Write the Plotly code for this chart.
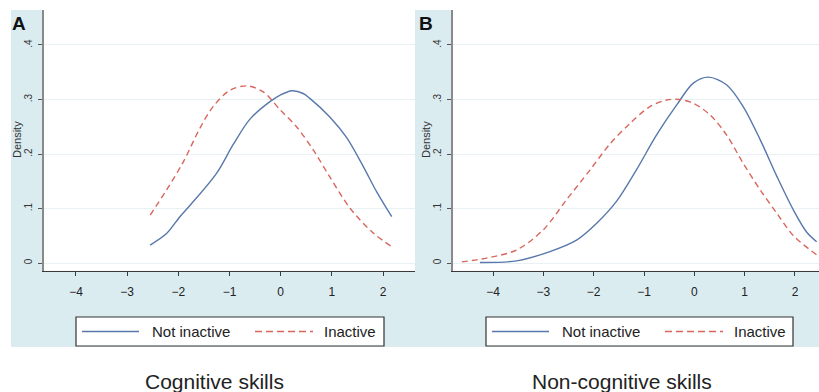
import plotly.graph_objects as go

# ---------------- data ----------------
cog_x_not = [-2.55, -2.23, -1.97, -1.77, -1.25, -0.93, -0.60, -0.21, -0.01, 0.22, 0.44, 0.57, 0.96, 1.29, 1.62, 1.88, 2.17]
cog_y_not = [0.033, 0.054, 0.085, 0.106, 0.165, 0.217, 0.264, 0.296, 0.308, 0.316, 0.311, 0.302, 0.268, 0.230, 0.176, 0.130, 0.085]

cog_x_in = [-2.55, -2.23, -1.90, -1.58, -1.32, -0.99, -0.66, -0.34, -0.01, 0.31, 0.64, 0.96, 1.36, 1.81, 2.17]
cog_y_in = [0.088, 0.134, 0.186, 0.247, 0.287, 0.317, 0.325, 0.314, 0.281, 0.250, 0.207, 0.158, 0.100, 0.055, 0.030]

non_x_not = [-4.26, -3.53, -2.87, -2.34, -1.94, -1.54, -1.15, -0.75, -0.35, -0.02, 0.28, 0.64, 0.97, 1.31, 1.64, 1.97, 2.23, 2.43]
non_y_not = [0.001, 0.004, 0.021, 0.042, 0.073, 0.114, 0.171, 0.235, 0.290, 0.330, 0.341, 0.327, 0.287, 0.226, 0.159, 0.097, 0.057, 0.039]

non_x_in = [-4.62, -4.13, -3.53, -3.00, -2.54, -2.07, -1.68, -1.28, -0.88, -0.55, -0.29, -0.02, 0.31, 0.64, 0.97, 1.31, 1.64, 1.97, 2.43]
non_y_in = [0.002, 0.009, 0.024, 0.061, 0.116, 0.171, 0.218, 0.256, 0.287, 0.299, 0.300, 0.293, 0.272, 0.235, 0.183, 0.134, 0.091, 0.050, 0.015]

x_ticks = [-4, -3, -2, -1, 0, 1, 2]
y_ticks = [0, 0.1, 0.2, 0.3, 0.4]
y_tick_text = ["0", ".1", ".2", ".3", ".4"]
series_names = ["Not inactive", "Inactive"]
panel_titles = ["Cognitive skills", "Non-cognitive skills"]
panel_letters = ["A", "B"]

# ---------------- style ----------------
W, H = 819, 392
BLUE = "#5878ab"
RED = "#d8665c"
BG = "#dbecf1"
GRID = "#e8f2f5"
FONT = "Liberation Sans, Arial, sans-serif"


def px(x):
    return x / W


def py(y):
    return 1 - y / H


fig = go.Figure()

line_kw = dict(shape="spline", smoothing=0.9, width=1.4)
fig.add_trace(go.Scatter(x=cog_x_not, y=cog_y_not, mode="lines", name=series_names[0],
                         line=dict(color=BLUE, **line_kw), xaxis="x", yaxis="y", showlegend=False))
fig.add_trace(go.Scatter(x=cog_x_in, y=cog_y_in, mode="lines", name=series_names[1],
                         line=dict(color=RED, dash="6px,4px", **line_kw), xaxis="x", yaxis="y", showlegend=False))
fig.add_trace(go.Scatter(x=non_x_not, y=non_y_not, mode="lines", name=series_names[0],
                         line=dict(color=BLUE, **line_kw), xaxis="x2", yaxis="y2", showlegend=False))
fig.add_trace(go.Scatter(x=non_x_in, y=non_y_in, mode="lines", name=series_names[1],
                         line=dict(color=RED, dash="6px,4px", **line_kw), xaxis="x2", yaxis="y2", showlegend=False))

ydom = [py(270.7), py(10)]
panels = [
    dict(xd=[px(44), px(415)], xr=[-4.625, 2.625], left=44, right=415, leg=(76, 384), title_x=214, letter=(19, 24)),
    dict(xd=[px(453), 1.0], xr=[-4.795, 2.477], left=453, right=819, leg=(486, 793), title_x=622, letter=(425.5, 23.5)),
]

common_x = dict(showline=True, linecolor="#3a3a3a", linewidth=1.3, ticks="outside", ticklen=4,
                tickcolor="#3a3a3a", showgrid=False, zeroline=False, tickvals=x_ticks,
                tickfont=dict(size=12, color="#222", family=FONT), ticklabelstandoff=6, fixedrange=True)
common_y = dict(showline=True, linecolor="#8a8a8a", linewidth=2, ticks="outside", ticklen=4,
                tickcolor="#555", showgrid=True, gridcolor=GRID, gridwidth=1, zeroline=False,
                tickvals=y_ticks, ticktext=y_tick_text, tickangle=-90, range=[-0.0141, 0.4642],
                tickfont=dict(size=10, color="#333", family=FONT), domain=ydom, ticklabelstandoff=2,
                fixedrange=True)

fig.update_layout(
    xaxis=dict(domain=panels[0]["xd"], range=panels[0]["xr"], anchor="y", **common_x),
    yaxis=dict(anchor="x", **common_y),
    xaxis2=dict(domain=panels[1]["xd"], range=panels[1]["xr"], anchor="y2", **common_x),
    yaxis2=dict(anchor="x2", **common_y),
)

shapes = [dict(type="rect", xref="paper", yref="paper", x0=px(11), x1=1, y0=py(347), y1=py(10),
               fillcolor=BG, line=dict(width=0), layer="below")]
annotations = []
for i, p in enumerate(panels):
    # white plot area
    shapes.append(dict(type="rect", xref="paper", yref="paper", x0=px(p["left"]), x1=px(p["right"]),
                       y0=py(270.7), y1=py(10), fillcolor="white", line=dict(width=0), layer="below"))
    # legend box
    l0, l1 = p["leg"]
    shapes.append(dict(type="rect", xref="paper", yref="paper", x0=px(l0), x1=px(l1), y0=py(346), y1=py(317),
                       fillcolor="white", line=dict(color="#333", width=1.2), layer="above"))
    shapes.append(dict(type="line", xref="paper", yref="paper", x0=px(l0 + 6), x1=px(l0 + 63),
                       y0=py(331.5), y1=py(331.5), line=dict(color=BLUE, width=1.4)))
    shapes.append(dict(type="line", xref="paper", yref="paper", x0=px(l0 + 179), x1=px(l0 + 237),
                       y0=py(331.5), y1=py(331.5), line=dict(color=RED, width=1.4, dash="7px,4px")))
    annotations.append(dict(text=series_names[0], xref="paper", yref="paper", x=px(l0 + 74), y=py(331.5),
                            xanchor="left", yanchor="middle", showarrow=False,
                            font=dict(size=15, color="#222", family=FONT)))
    annotations.append(dict(text=series_names[1], xref="paper", yref="paper", x=px(l0 + 246), y=py(331.5),
                            xanchor="left", yanchor="middle", showarrow=False,
                            font=dict(size=15, color="#222", family=FONT)))
    # axis title
    annotations.append(dict(text="Density", xref="paper", yref="paper", x=px(p["left"] - 27), y=py(140),
                            xanchor="center", yanchor="middle", textangle=-90, showarrow=False,
                            font=dict(size=11, color="#333", family=FONT)))
    # panel letter
    annotations.append(dict(text="<b>%s</b>" % panel_letters[i], xref="paper", yref="paper",
                            x=px(p["letter"][0]), y=py(p["letter"][1]), xanchor="center", yanchor="middle",
                            showarrow=False, font=dict(size=19, color="#111", family=FONT)))
    # panel caption
    annotations.append(dict(text=panel_titles[i], xref="paper", yref="paper", x=px(p["title_x"]), y=py(381),
                            xanchor="center", yanchor="middle", showarrow=False,
                            font=dict(size=21, color="#222", family=FONT)))

fig.update_layout(
    width=W, height=H, autosize=False,
    margin=dict(l=0, r=0, t=0, b=0),
    paper_bgcolor="white", plot_bgcolor="rgba(0,0,0,0)",
    shapes=shapes, annotations=annotations, showlegend=False,
    font=dict(family=FONT),
)

fig.write_html("out.html", config={"displayModeBar": False},
               post_script="document.body.style.margin='0';document.body.style.padding='0';"
                           "document.body.style.overflow='hidden';")
